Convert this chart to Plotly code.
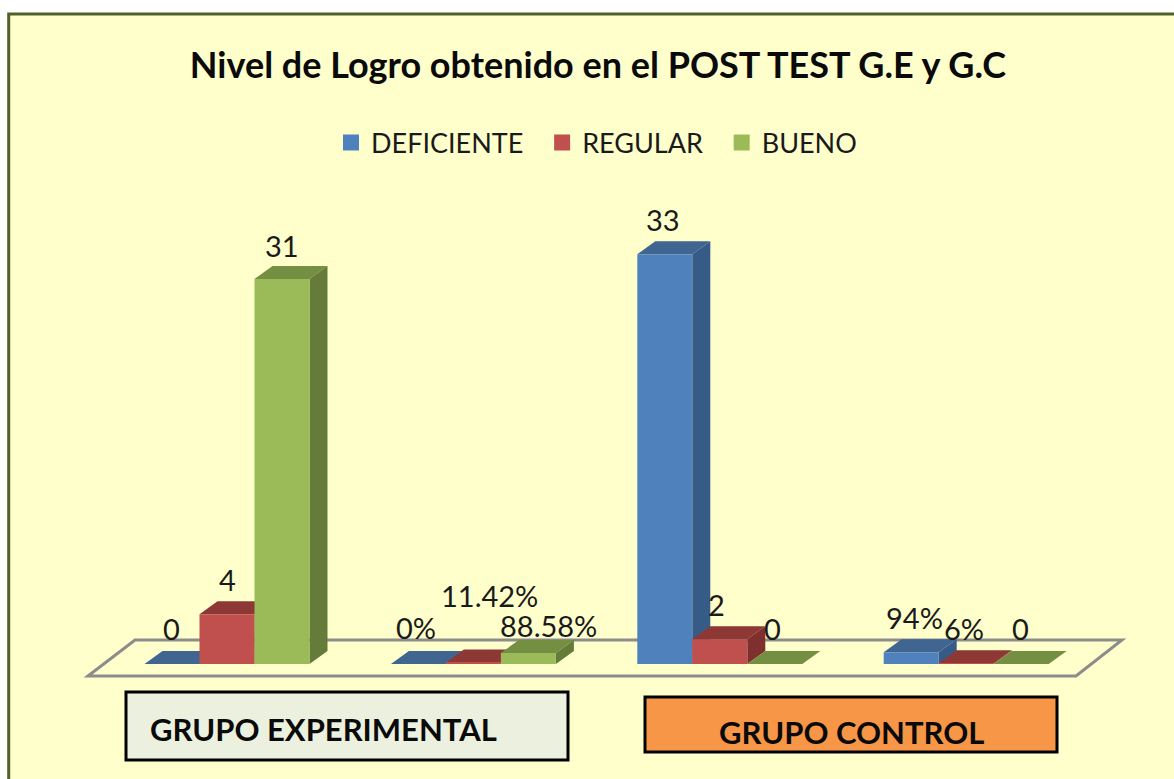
import plotly.graph_objects as go

W, H = 1174, 779
series_names = ["DEFICIENTE", "REGULAR", "BUENO"]
group_positions = [0, 1, 2, 3]
deficiente = [0, 0, 33, 0.94]
regular = [4, 0.1142, 2, 0.06]
bueno = [31, 0.8858, 0, 0]
labels_deficiente = ["0", "0%", "33", "94%"]
labels_regular = ["4", "11.42%", "2", "6%"]
labels_bueno = ["31", "88.58%", "0", "0"]
title_text = "Nivel de Logro obtenido en el POST TEST G.E y G.C"
box_experimental = "GRUPO EXPERIMENTAL"
box_control = "GRUPO CONTROL"

front = ["#4F81BD", "#C0504D", "#9BBB59"]
top = ["#3F6590", "#8E3836", "#748F42"]
side = ["#365B87", "#7F2F2D", "#657B3A"]
BG = "#FFFFCC"
FONT = "Lato"

# Axis calibration: full-figure plot area
UX, X0 = 246.4, 227.0
UY, Y0 = 12.42, 664.0
xr = [-X0 / UX, (W - X0) / UX]
yr = [(Y0 - H) / UY, Y0 / UY]
BAR_W = 55.0 / UX
DX, DY = 18.0 / UX, 13.0 / UY

def px(x): return x / W
def py(y): return 1 - y / H

values = [deficiente, regular, bueno]
labels = [labels_deficiente, labels_regular, labels_bueno]
# label nudges (pixels) relative to each bar's top-centre
shifts = [
    [(-1, 36), (-2, 37), (-2, 35), (3, 35)],
    [(0, 35), (16, 67), (-3, 35), (-2, 35)],
    [(0, 33), (20, 28), (-2, 36), (-1, 36)],
]

fig = go.Figure()
for i, name in enumerate(series_names):
    fig.add_trace(go.Bar(x=group_positions, y=values[i], name=name, marker=dict(color=front[i], line_width=0),
                         width=BAR_W, offset=(i - 1.5) * BAR_W, showlegend=False, hoverinfo="skip"))
    fig.add_trace(go.Scatter(x=[None], y=[None], mode="markers",
                             name=name + ("\u00a0\u00a0" if i < 2 else ""),
                             marker=dict(symbol="square", color=front[i], size=16)))

shapes = []
# frame
shapes.append(dict(type="rect", xref="paper", yref="paper", x0=px(8.7), x1=1.02, y0=-0.02, y1=py(14),
                   fillcolor=BG, line=dict(color="#4F6228", width=3), layer="below"))
# floor
floor = [(88, 676), (135, 640), (1122, 640), (1076, 676)]
path = "M " + " L ".join(f"{px(a):.5f} {py(b):.5f}" for a, b in floor) + " Z"
shapes.append(dict(type="path", xref="paper", yref="paper", path=path, line=dict(color="#8C8C8C", width=3), layer="below"))

# Depth faces derived from the data
for g in group_positions:
    for i in range(3):
        v = values[i][g]
        l = g + (i - 1.5) * BAR_W
        r = l + BAR_W
        p_top = f"M {l} {v} L {l+DX} {v+DY} L {r+DX} {v+DY} L {r} {v} Z"
        shapes.append(dict(type="path", xref="x", yref="y", path=p_top, fillcolor=top[i], line_width=0, layer="below"))
        if v > 0:
            p_side = f"M {r} 0 L {r+DX} {DY} L {r+DX} {v+DY} L {r} {v} Z"
            shapes.append(dict(type="path", xref="x", yref="y", path=p_side, fillcolor=side[i], line_width=0, layer="below"))

# Label boxes
shapes.append(dict(type="rect", xref="paper", yref="paper", x0=px(126), x1=px(568), y0=py(760), y1=py(692),
                   fillcolor="#EBF1DE", line=dict(color="#000000", width=3), layer="above"))
shapes.append(dict(type="rect", xref="paper", yref="paper", x0=px(645), x1=px(1057), y0=py(752), y1=py(697),
                   fillcolor="#F79646", line=dict(color="#000000", width=3), layer="above"))

ann = []
for i in range(3):
    for g in group_positions:
        sx, sy = shifts[i][g]
        ann.append(dict(x=g + (i - 1) * BAR_W, y=values[i][g], xref="x", yref="y", text=labels[i][g], showarrow=False,
                        xanchor="center", yanchor="middle", xshift=sx, yshift=sy,
                        font=dict(family=FONT, size=29, color="#1a1a1a")))
ann.append(dict(x=px(323.5), y=py(729), xref="paper", yref="paper", text=f"<b>{box_experimental}</b>", showarrow=False,
                xanchor="center", yanchor="middle", font=dict(family=FONT, size=31, color="#0a0a0a")))
ann.append(dict(x=px(851), y=py(732), xref="paper", yref="paper", text=f"<b>{box_control}</b>", showarrow=False,
                xanchor="center", yanchor="middle", font=dict(family=FONT, size=31, color="#0a0a0a")))

fig.update_layout(
    width=W, height=H, autosize=False,
    margin=dict(l=0, r=0, t=0, b=0, pad=0),
    paper_bgcolor="#FFFFFF", plot_bgcolor="rgba(0,0,0,0)",
    barmode="overlay",
    title=dict(text=f"<b>{title_text}</b>", x=px(598), y=py(65), xanchor="center", yanchor="middle",
               font=dict(family=FONT, size=36, color="#0a0a0a")),
    xaxis=dict(range=xr, visible=False, fixedrange=True),
    yaxis=dict(range=yr, visible=False, fixedrange=True),
    legend=dict(orientation="h", x=px(596.5), y=py(143), xanchor="center", yanchor="middle", bgcolor="rgba(0,0,0,0)",
                font=dict(family=FONT, size=27, color="#1a1a1a"), itemwidth=30, itemclick=False, itemdoubleclick=False),
    shapes=shapes, annotations=ann, showlegend=True,
)
fig.write_html("out.html", config={"displayModeBar": False},
               post_script="document.body.style.margin='0';document.body.style.overflow='hidden';")
